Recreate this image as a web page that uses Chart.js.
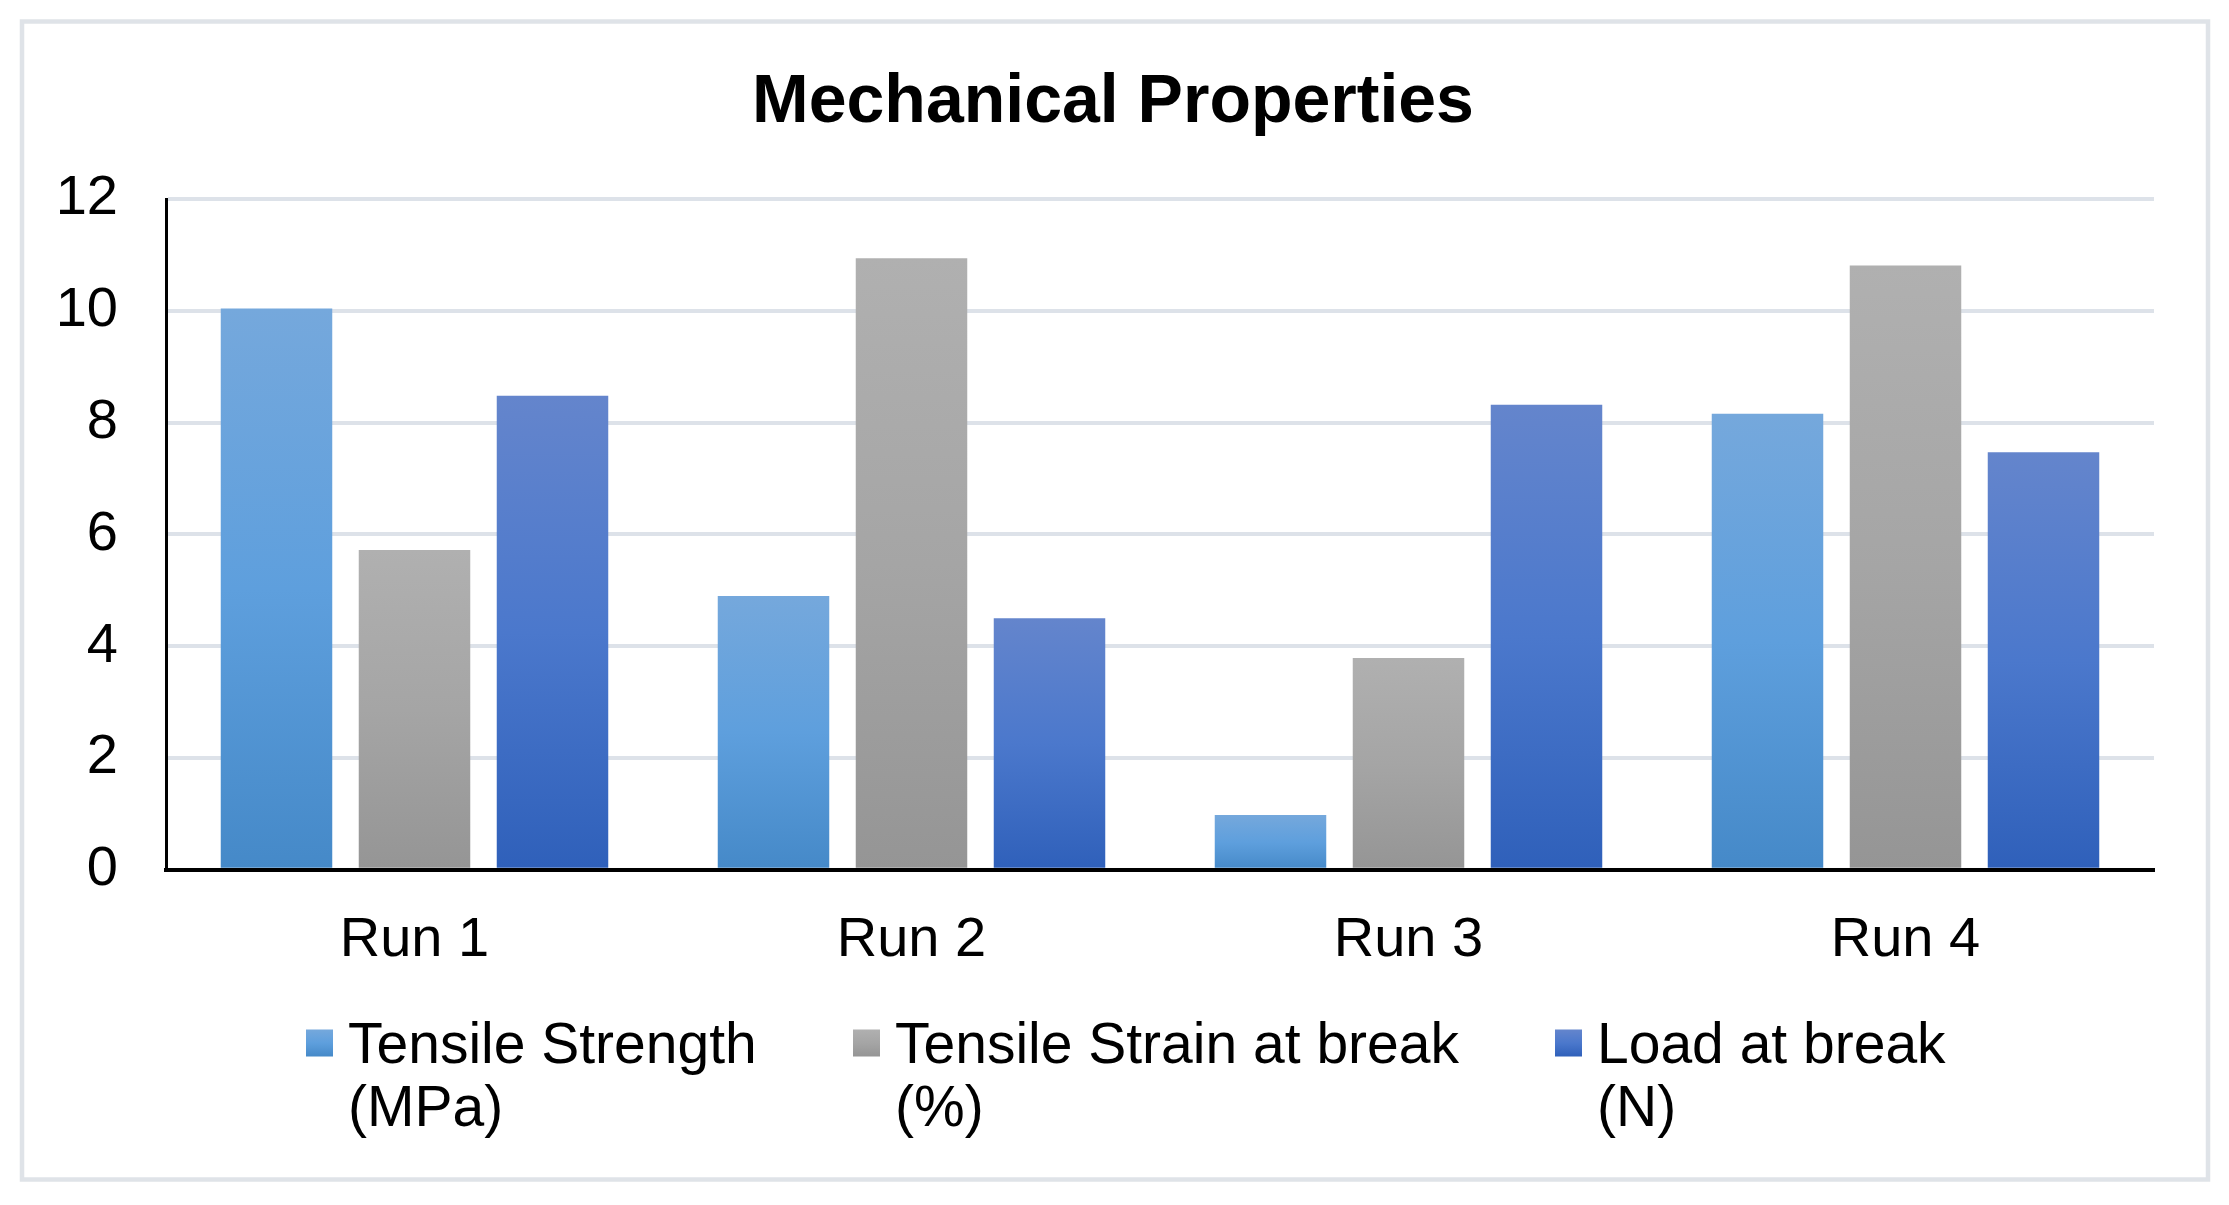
<!DOCTYPE html>
<html><head><meta charset="utf-8">
<script src="https://cdn.jsdelivr.net/npm/chart.js@4.4.1/dist/chart.umd.min.js"></script>
<style>
html,body{margin:0;padding:0;background:#fff;overflow:hidden}
#wrap{position:absolute;left:0;top:0;width:2229px;height:1205px}
</style></head>
<body><div id="wrap"><canvas id="c" width="2229" height="1205"></canvas></div>
<script>
// ---- data ----
const categories = ['Run 1', 'Run 2', 'Run 3', 'Run 4'];
const tensileStrength = [10.04, 4.90, 0.98, 8.16];
const tensileStrain = [5.72, 10.94, 3.79, 10.81];
const loadAtBreak = [8.48, 4.50, 8.32, 7.47];
const seriesLabels = ['Tensile Strength (MPa)', 'Tensile Strain at break (%)', 'Load at break (N)'];
const legendLines = [['Tensile Strength', '(MPa)'], ['Tensile Strain at break', '(%)'], ['Load at break', '(N)']];
const yTicks = [0, 2, 4, 6, 8, 10, 12];
const titleText = 'Mechanical Properties';

// ---- styles ----
const FONT = "'Liberation Sans', Arial, sans-serif";
Chart.defaults.font.family = FONT;
Chart.defaults.color = '#000';

const gradStops = [
  [[0, '#75a8dc'], [0.5, '#5e9fdd'], [1, '#4589c8']],
  [[0, '#b0b0b0'], [0.5, '#a5a5a5'], [1, '#959595']],
  [[0, '#6485cc'], [0.5, '#4b78cc'], [1, '#2f60ba']]
];

function makeGrad(ctx, top, bottom, stops) {
  const g = ctx.createLinearGradient(0, top, 0, bottom);
  stops.forEach(s => g.addColorStop(s[0], s[1]));
  return g;
}

function barFill(idx) {
  return function (c) {
    const chart = c.chart;
    const ys = chart.scales && chart.scales.y;
    if (c.type !== 'data' || !ys || !chart.chartArea) return gradStops[idx][1][1];
    const top = ys.getPixelForValue(c.raw);
    const bottom = ys.getPixelForValue(0);
    if (!isFinite(top) || !isFinite(bottom) || top === bottom) return gradStops[idx][1][1];
    return makeGrad(chart.ctx, top, bottom, gradStops[idx]);
  };
}

const framePlugin = {
  id: 'frame',
  beforeDraw(chart) {
    const ctx = chart.ctx;
    ctx.save();
    ctx.fillStyle = '#fff';
    ctx.fillRect(0, 0, chart.width, chart.height);
    ctx.strokeStyle = '#dfe3e8';
    ctx.lineWidth = 4.5;
    ctx.strokeRect(22, 21.5, 2186, 1158);
    ctx.restore();
  }
};

const titlePlugin = {
  id: 'customTitle',
  afterDraw(chart) {
    const ctx = chart.ctx;
    ctx.save();
    ctx.font = 'bold 68px ' + FONT;
    ctx.fillStyle = '#000';
    ctx.textAlign = 'center';
    ctx.textBaseline = 'alphabetic';
    ctx.fillText(titleText, 1113, 122);
    ctx.restore();
  }
};

const legendPlugin = {
  id: 'customLegend',
  afterDraw(chart) {
    const ctx = chart.ctx;
    const size = 57, box = 27, textGap = 42, lineStep = 63;
    const starts = [306, 853, 1555];
    const firstBaseline = 1063;
    ctx.save();
    ctx.font = size + 'px ' + FONT;
    legendLines.forEach((lines, i) => {
      const x = starts[i];
      const bTop = firstBaseline - 20 - box / 2;
      ctx.fillStyle = makeGrad(ctx, bTop, bTop + box, gradStops[i]);
      ctx.fillRect(x, bTop, box, box);
      ctx.fillStyle = '#000';
      ctx.textBaseline = 'alphabetic';
      ctx.textAlign = 'left';
      lines.forEach((l, k) => ctx.fillText(l, x + textGap, firstBaseline + k * lineStep));
    });
    ctx.restore();
  }
};

const series = [tensileStrength, tensileStrain, loadAtBreak];

new Chart(document.getElementById('c'), {
  type: 'bar',
  data: {
    labels: categories,
    datasets: series.map((d, i) => ({
      label: seriesLabels[i],
      data: d,
      backgroundColor: barFill(i),
      borderWidth: 0,
      barPercentage: 0.808,
      categoryPercentage: 0.833
    }))
  },
  options: {
    responsive: false,
    animation: false,
    devicePixelRatio: 1,
    layout: { padding: { left: 0, right: 75, top: 199, bottom: 194 } },
    plugins: {
      legend: { display: false },
      tooltip: { enabled: false },
      title: { display: false }
    },
    scales: {
      x: {
        grid: { display: false, drawTicks: false },
        border: { display: true, color: '#000', width: 4 },
        ticks: { color: '#000', font: { size: 56 }, padding: 37 }
      },
      y: {
        min: 0, max: 12,
        afterBuildTicks: s => { s.ticks = yTicks.map(v => ({ value: v })); },
        afterFit: s => { s.width = 166; },
        grid: { color: '#dde2e9', lineWidth: 4, drawTicks: false },
        border: { display: true, color: '#000', width: 3 },
        ticks: { color: '#000', font: { size: 56 }, padding: 48 }
      }
    }
  },
  plugins: [framePlugin, titlePlugin, legendPlugin]
});
</script>
</body></html>
